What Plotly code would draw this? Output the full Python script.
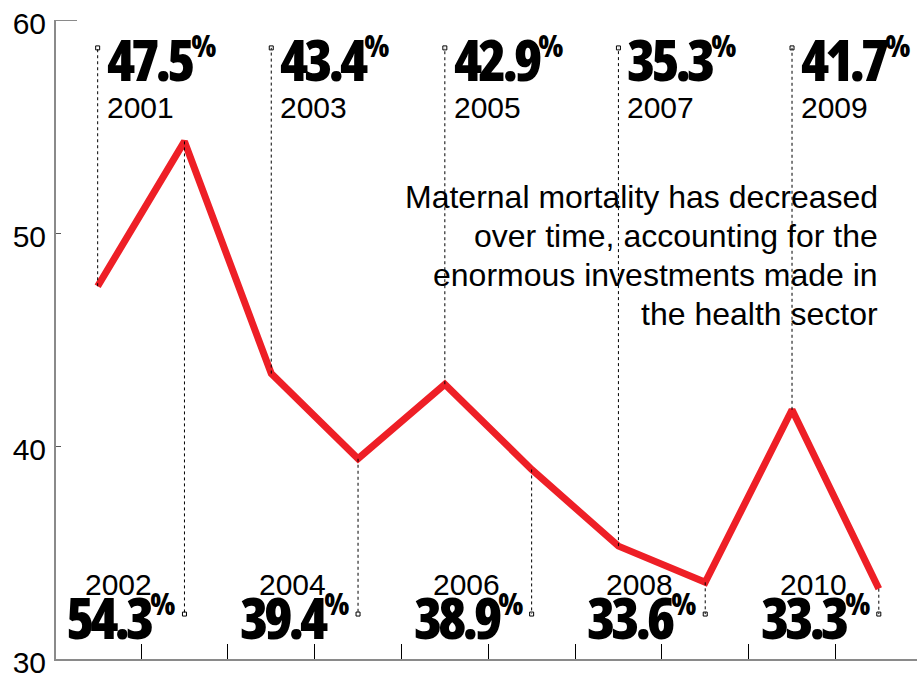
import plotly.graph_objects as go

years = [2001, 2002, 2003, 2004, 2005, 2006, 2007, 2008, 2009, 2010]
values = [47.5, 54.3, 43.4, 39.4, 42.9, 38.9, 35.3, 33.6, 41.7, 33.3]
year_labels = [str(y) for y in years]
value_labels = ["47.5", "54.3", "43.4", "39.4", "42.9", "38.9", "35.3", "33.6", "41.7", "33.3"]
note_lines = [
    "Maternal mortality has decreased",
    "over time, accounting for the",
    "enormous investments made in",
    "the health sector",
]
y_ticks = [30, 40, 50, 60]
x_ticks = [2001.5, 2002.5, 2003.5, 2004.5, 2005.5, 2006.5, 2007.5, 2008.5, 2009.5]

W, H = 917, 675
ML, MR, MT = 56, 0, 20
PH = 639
MB = H - MT - PH
Y_MIN, Y_MAX = 30, 60
TOP_LEAD = 58.69
BOT_LEAD = 32.11

def py2paper(py):
    return 1 - (py - MT) / PH

def px2paper(px):
    return (px - ML) / (W - ML - MR)

RED = "#ee1f26"
AXIS = "#8a8a8a"
NUM_FONT = "Open Sans, Liberation Sans Narrow, DejaVu Sans Condensed, sans-serif"
TXT_FONT = "Liberation Sans, Arial, Helvetica, sans-serif"

fig = go.Figure()

fig.add_trace(go.Scatter(
    x=years, y=values, mode="lines",
    line=dict(color=RED, width=7),
    hoverinfo="skip", showlegend=False,
))

lead_x, lead_y = [], []
for i, (yr, v) in enumerate(zip(years, values)):
    end = TOP_LEAD if i % 2 == 0 else BOT_LEAD
    fig.add_shape(type="line", xref="x", yref="y", x0=yr, x1=yr, y0=v, y1=end,
                  line=dict(color="black", width=1, dash="dot"))
    lead_x.append(yr)
    lead_y.append(end)

fig.add_trace(go.Scatter(
    x=lead_x, y=lead_y, mode="markers",
    marker=dict(symbol="square-open", size=4, color="black", line=dict(width=1, color="black")),
    hoverinfo="skip", showlegend=False, cliponaxis=False,
))

for i, (yr, lab, vl) in enumerate(zip(years, year_labels, value_labels)):
    big = (f'<span style="font-stretch:75%;letter-spacing:-4px">{vl}'
           f'<sup><span style="font-size:30px;letter-spacing:0px">%</span></sup></span>')
    if i % 2 == 0:
        fig.add_annotation(x=yr, xref="x", y=py2paper(59), yref="paper", text=big,
                           showarrow=False, xanchor="left", yanchor="middle", xshift=7,
                           font=dict(family=NUM_FONT, size=57, color="black", weight=800))
        fig.add_annotation(x=yr, xref="x", y=py2paper(107.5), yref="paper", text=lab,
                           showarrow=False, xanchor="left", yanchor="middle", xshift=7,
                           font=dict(family=TXT_FONT, size=30, color="black"))
    else:
        fig.add_annotation(x=yr, xref="x", y=py2paper(617), yref="paper", text=big,
                           showarrow=False, xanchor="right", yanchor="middle", xshift=-7,
                           font=dict(family=NUM_FONT, size=57, color="black", weight=800))
        fig.add_annotation(x=yr, xref="x", y=py2paper(584), yref="paper", text=lab,
                           showarrow=False, xanchor="left", yanchor="middle", xshift=-101,
                           font=dict(family=TXT_FONT, size=30, color="black"))

note_y = [197, 236, 275, 314]
for line, ny in zip(note_lines, note_y):
    fig.add_annotation(x=px2paper(880), xref="paper", y=py2paper(ny), yref="paper",
                       text=line, showarrow=False, xanchor="right", yanchor="middle",
                       font=dict(family=TXT_FONT, size=32, color="black"))

# top stub at 60
fig.add_shape(type="line", xref="paper", yref="y", x0=0, x1=21 / (W - ML - MR), y0=60, y1=60,
              line=dict(color=AXIS, width=2))

fig.update_layout(
    width=W, height=H,
    margin=dict(l=ML, r=MR, t=MT, b=MB, autoexpand=False),
    plot_bgcolor="white", paper_bgcolor="white",
    showlegend=False,
    xaxis=dict(range=[2000.52, 2010.44], showgrid=False, zeroline=False, automargin=False,
               showline=True, linecolor=AXIS, linewidth=2,
               tickmode="array", tickvals=x_ticks, showticklabels=False,
               ticks="inside", ticklen=15, tickwidth=1.2, tickcolor="black"),
    yaxis=dict(range=[Y_MIN, Y_MAX], showgrid=False, zeroline=False, automargin=False,
               showline=True, linecolor=AXIS, linewidth=2,
               tickmode="array", tickvals=y_ticks,
               ticks="inside", ticklen=5, tickwidth=1, tickcolor="#555555",
               ticklabelstandoff=2, ticklabelshift=3, ticklabeloverflow="allow",
               tickfont=dict(family=TXT_FONT, size=30, color="black")),
)

fig.write_html("out.html",
               config={"displayModeBar": False},
               post_script="document.body.style.margin='0px';document.body.style.overflow='hidden';")
